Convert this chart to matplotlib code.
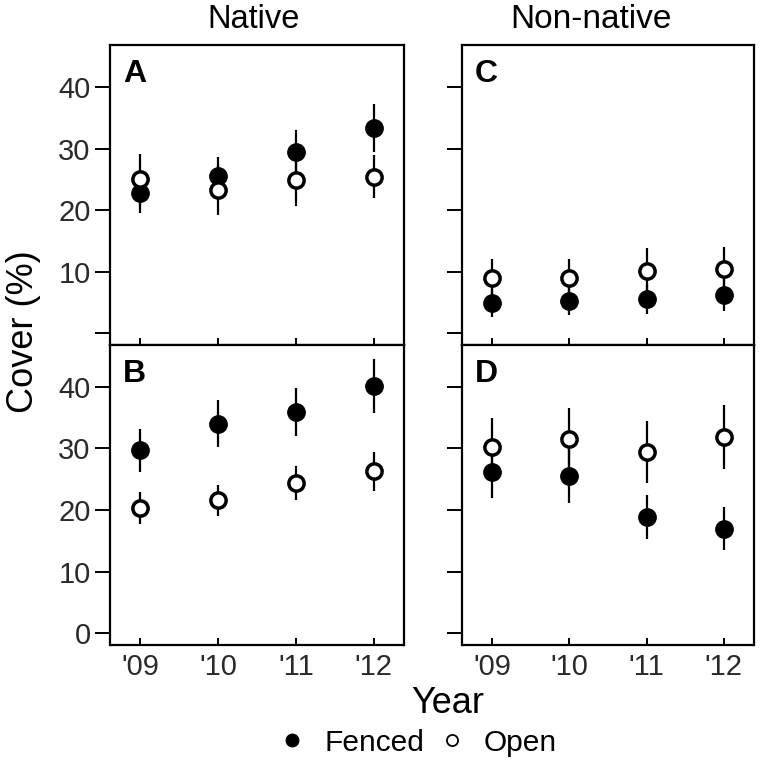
import numpy as np
import matplotlib
matplotlib.use("Agg")
import matplotlib.pyplot as plt
from matplotlib.lines import Line2D

plt.rcParams['font.family'] = ['Liberation Sans', 'DejaVu Sans']

years = [1, 2, 3, 4]
year_labels = ["'09", "'10", "'11", "'12"]

# A: native, top row
a_fenced = [22.8, 25.5, 29.4, 33.4]
a_fenced_se = [3.3, 3.2, 3.6, 3.9]
a_open = [25.0, 23.3, 24.9, 25.4]
a_open_se = [4.2, 4.1, 4.2, 3.5]

# B: native, bottom row
b_fenced = [29.7, 34.0, 36.0, 40.2]
b_fenced_se = [3.5, 3.8, 3.9, 4.4]
b_open = [20.4, 21.6, 24.4, 26.3]
b_open_se = [2.6, 2.5, 2.8, 3.2]

# C: non-native, top row
c_fenced = [4.9, 5.2, 5.6, 6.2]
c_fenced_se = [2.3, 2.3, 2.4, 2.6]
c_open = [9.0, 9.0, 10.2, 10.5]
c_open_se = [3.1, 3.1, 3.6, 3.5]

# D: non-native, bottom row
d_fenced = [26.2, 25.6, 18.9, 17.0]
d_fenced_se = [4.3, 4.4, 3.6, 3.5]
d_open = [30.3, 31.6, 29.4, 31.9]
d_open_se = [4.6, 5.0, 5.0, 5.2]

fig = plt.figure(figsize=(7.6, 7.65), dpi=100)
axA = fig.add_axes([0.1447, 0.549, 0.3868, 0.392])
axB = fig.add_axes([0.1447, 0.157, 0.3868, 0.392])
axC = fig.add_axes([0.6079, 0.549, 0.3842, 0.392])
axD = fig.add_axes([0.6079, 0.157, 0.3842, 0.392])

panels = [
    (axA, 'A', a_fenced, a_fenced_se, a_open, a_open_se),
    (axB, 'B', b_fenced, b_fenced_se, b_open, b_open_se),
    (axC, 'C', c_fenced, c_fenced_se, c_open, c_open_se),
    (axD, 'D', d_fenced, d_fenced_se, d_open, d_open_se),
]

for ax, letter, f, fse, o, ose in panels:
    ax.errorbar(years, f, yerr=fse, fmt='o', color='black', mfc='black',
                mec='black', ms=12.5, elinewidth=1.6, capsize=0, zorder=3)
    ax.errorbar(years, o, yerr=ose, fmt='o', color='black', mfc='white',
                mec='black', ms=11, mew=2.5, elinewidth=1.6, capsize=0, zorder=4)
    ax.set_xlim(0.61, 4.39)
    ax.set_ylim(-1.9, 46.8)
    ax.set_yticks([0, 10, 20, 30, 40])
    ax.set_xticks(years)
    ax.tick_params(axis='y', direction='out', length=11, width=1.4, labelsize=21,
                   labelcolor='#2a2a2a', pad=3)
    ax.tick_params(axis='x', direction='in', length=5, width=1.4, labelsize=21,
                   labelcolor='#2a2a2a', pad=6)
    for s in ax.spines.values():
        s.set_linewidth(1.6)
    ax.text(0.045, 0.955, letter, transform=ax.transAxes, fontsize=23,
            fontweight='bold', va='top', ha='left')

axA.set_yticklabels(['', '10', '20', '30', '40'])
axB.set_yticklabels(['0', '10', '20', '30', '40'])
axC.set_yticklabels([])
axD.set_yticklabels([])
axA.set_xticklabels([])
axC.set_xticklabels([])
axB.set_xticklabels(year_labels)
axD.set_xticklabels(year_labels)

fig.text(0.334, 0.974, 'Native', fontsize=23.5, ha='center', va='center')
fig.text(0.778, 0.974, 'Non-native', fontsize=24, ha='center', va='center')

fig.text(0.031, 0.566, 'Cover (%)', rotation=90, fontsize=26,
         ha='center', va='center')
fig.text(0.589, 0.081, 'Year', fontsize=26, ha='center', va='center')

handles = [
    Line2D([], [], marker='o', ls='none', color='black', mfc='black', ms=9),
    Line2D([], [], marker='o', ls='none', color='black', mfc='white', ms=8, mew=1.3),
]
fig.legend(handles, ['Fenced', 'Open'], loc='center', bbox_to_anchor=(0.551, 0.029),
           ncol=2, frameon=False, fontsize=21.5, handletextpad=0.67,
           columnspacing=0.53, handlelength=0.8, borderpad=0.1)

fig.savefig('out.png', dpi=100)
